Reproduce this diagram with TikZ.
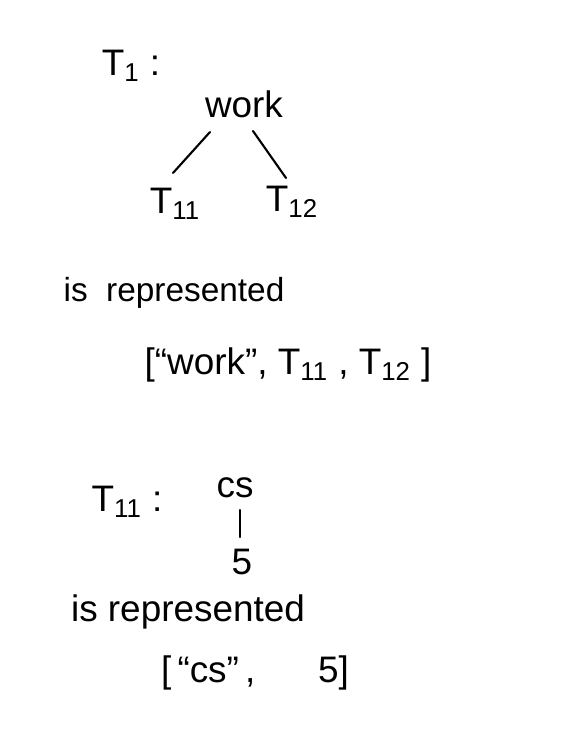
\documentclass[tikz,border=0pt]{standalone}
\usepackage{fontspec}
\setmainfont{Liberation Sans}
\usetikzlibrary{positioning}

\tikzset{
  hand/.style={font=\fontsize{21}{24}\selectfont, inner sep=1pt},
  branch/.style={line width=1.2pt, line cap=round}
}

\begin{document}
\begin{tikzpicture}[x=0.02cm, y=-0.02cm]
  \useasboundingbox (0,0) rectangle (569,750);

  % first tree
  \node[hand] (tone) at (131,66) {T\textsubscript{1} :};
  \node[hand] (work) at (244,104) {work};
  \node[hand] (tlo) at (175,204) {T\textsubscript{11}};
  \node[hand] (tlt) at (292,202) {T\textsubscript{12}};
  \draw[branch] ([shift={(-34,28)}]work.center) -- ([shift={(-2,-31)}]tlo.center);
  \draw[branch] ([shift={(9,27)}]work.center) -- ([shift={(-6,-24)}]tlt.center);

  \node[hand, font=\fontsize{19}{22}\selectfont] (repa) at (174,293) {is\ \ represented};
  \node[hand] (lista) at (288,365) {[``work'', T\textsubscript{11} , T\textsubscript{12} ]};

  % second tree
  \node[hand] (tsub) at (127,502) {T\textsubscript{11} :};
  \node[hand] (cs) at (235,488) {cs};
  \node[hand] (five) at (242,562) {5};
  \draw[branch] ([shift={(5,22)}]cs.center) -- ([shift={(-2,-25)}]five.center);

  \node[hand] (repb) at (188,612) {is represented};
  \node[hand] (listb) at (255,673) {[\,``cs''\,,\hspace{1.7em}5]};
\end{tikzpicture}
\end{document}
